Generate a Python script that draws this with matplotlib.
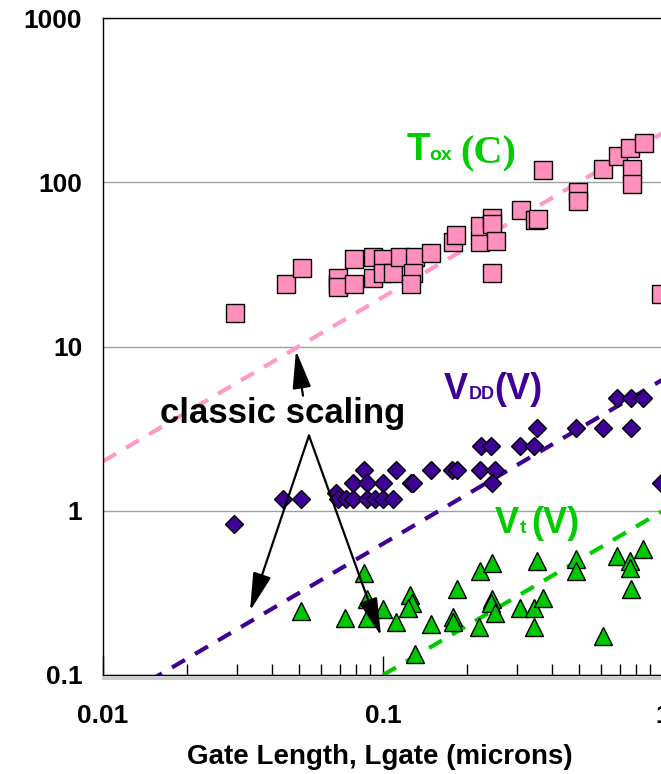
import numpy as np
import matplotlib.pyplot as plt
from matplotlib.lines import Line2D
from matplotlib.ticker import NullLocator, FixedLocator

plt.rcParams['font.family'] = ['Liberation Sans', 'DejaVu Sans']

# Tox (oxide thickness) points
tox_lgate = [0.0296, 0.045, 0.0514, 0.069, 0.069, 0.069, 0.079, 0.079, 0.092, 0.092,
             0.1, 0.1, 0.109, 0.115, 0.130, 0.128, 0.126, 0.148, 0.178, 0.182,
             0.222, 0.222, 0.245, 0.245, 0.253, 0.245, 0.311, 0.349, 0.358, 0.373,
             0.497, 0.497, 0.61, 0.69, 0.76, 0.855, 0.775, 0.775, 0.984]
tox_val = [16, 24, 30, 24, 26, 23, 34, 24, 35, 26,
           34, 28, 28, 35, 35, 28, 24, 37, 43, 48,
           43, 54, 61, 56, 44, 28, 68, 59, 60, 118,
           87, 77, 120, 144, 161, 173, 120, 97, 21]

# supply voltage points
vdd_lgate = [0.0294, 0.044, 0.051, 0.068, 0.069, 0.074, 0.078, 0.078, 0.0855, 0.088,
             0.088, 0.0936, 0.1, 0.1, 0.1086, 0.111, 0.126, 0.128, 0.148, 0.176,
             0.184, 0.222, 0.251, 0.245, 0.224, 0.243, 0.309, 0.346, 0.355, 0.489,
             0.61, 0.769, 0.685, 0.769, 0.848, 0.984]
vdd_val = [0.83, 1.18, 1.18, 1.29, 1.18, 1.18, 1.18, 1.48, 1.78, 1.48,
           1.18, 1.18, 1.48, 1.18, 1.18, 1.78, 1.48, 1.48, 1.78, 1.78,
           1.78, 1.78, 1.78, 1.48, 2.49, 2.49, 2.49, 2.49, 3.21, 3.21,
           3.21, 3.21, 4.89, 4.89, 4.89, 1.48]

# threshold voltage points
vt_lgate = [0.051, 0.0855, 0.088, 0.073, 0.088, 0.1, 0.111, 0.125, 0.127, 0.123,
            0.130, 0.148, 0.184, 0.178, 0.178, 0.222, 0.245, 0.245, 0.243, 0.251,
            0.220, 0.309, 0.346, 0.373, 0.346, 0.355, 0.489, 0.489, 0.61, 0.685,
            0.762, 0.762, 0.769, 0.848]
vt_val = [0.246, 0.419, 0.291, 0.223, 0.223, 0.253, 0.210, 0.307, 0.275, 0.256,
          0.134, 0.205, 0.334, 0.226, 0.210, 0.431, 0.482, 0.291, 0.275, 0.239,
          0.196, 0.256, 0.256, 0.295, 0.196, 0.496, 0.510, 0.431, 0.173, 0.532,
          0.496, 0.449, 0.334, 0.587]

# classic scaling lines (end points)
scale_lgate = [0.01, 1.0]
tox_scale = [2.0, 200.0]
vdd_scale = [0.063, 6.3]
vt_lgate_scale = [0.1, 1.0]
vt_scale = [0.1, 1.0]

x_ticks = [0.01, 0.1, 1]
x_labels = ['0.01', '0.1', '1']
y_ticks = [0.1, 1, 10, 100, 1000]
y_labels = ['0.1', '1', '10', '100', '1000']

pink = '#ff8fbd'
pink_line = '#ff99c8'
purple = '#3f0096'
green = '#00c800'
green_txt = '#00cc00'

W, H = 661, 774
fig = plt.figure(figsize=(W / 100, H / 100), dpi=100)
ax = fig.add_axes([103 / W, (H - 675) / H, 560 / W, 657 / H])

ax.set_xscale('log')
ax.set_yscale('log')
ax.set_xlim(0.01, 1)
ax.set_ylim(0.1, 1000)

dash = (3.6, 2.8)
ax.plot(scale_lgate, tox_scale, color=pink_line, lw=3, dashes=dash, zorder=2)
ax.plot(scale_lgate, vdd_scale, color=purple, lw=3, dashes=dash, zorder=2)
ax.plot(vt_lgate_scale, vt_scale, color=green_txt, lw=3, dashes=dash, zorder=2)

ax.plot(tox_lgate, tox_val, 's', ms=13.5, mfc=pink, mec='black', mew=1.0, zorder=3)
ax.plot(vdd_lgate, vdd_val, 'D', ms=9.5, mfc=purple, mec='black', mew=1.0, zorder=3)
ax.plot(vt_lgate, vt_val, '^', ms=13.5, mfc=green, mec='black', mew=1.0, zorder=3)

# axes / ticks
ax.xaxis.set_major_locator(FixedLocator(x_ticks))
ax.set_xticklabels(x_labels)
ax.yaxis.set_major_locator(FixedLocator(y_ticks))
ax.set_yticklabels(y_labels)
ax.yaxis.set_minor_locator(NullLocator())
ax.tick_params(axis='x', which='major', direction='in', length=14, width=1, pad=21,
               labelsize=19)
ax.tick_params(axis='x', which='minor', direction='in', length=8, width=1)
ax.tick_params(axis='y', which='major', length=0, pad=15, labelsize=19)
for lab in ax.get_xticklabels() + ax.get_yticklabels():
    lab.set_fontweight('bold')

ax.yaxis.grid(True, which='major', color='#a0a0a0', lw=1)
ax.set_axisbelow(True)
for s in ['left', 'top', 'bottom']:
    ax.spines[s].set_linewidth(1)
ax.spines['right'].set_visible(False)

# shadow under the x axis
fig.add_artist(Line2D([103 / W, 1], [(H - 678) / H] * 2, transform=fig.transFigure,
                      color='#c8c8c8', lw=2))

# labels for each series
ax.text(0.1218, 136, 'T', color=green_txt, fontsize=28, fontweight='bold',
        ha='left', va='baseline')
ax.text(0.146, 136, 'ox', color=green_txt, fontsize=14, fontweight='bold',
        ha='left', va='baseline')
ax.text(0.188, 130, '(C)', color=green_txt, fontsize=29, fontweight='bold',
        family=['Liberation Serif', 'DejaVu Serif'], ha='left', va='baseline')

ax.text(0.1651, 4.82, 'V', color=purple, fontsize=26, fontweight='bold',
        ha='left', va='baseline')
ax.text(0.2028, 4.82, 'DD', color=purple, fontsize=13, fontweight='bold',
        ha='left', va='baseline')
ax.text(0.249, 4.82, '(V)', color=purple, fontsize=26, fontweight='bold',
        ha='left', va='baseline')

ax.text(0.2512, 0.734, 'V', color=green_txt, fontsize=26, fontweight='bold',
        ha='left', va='baseline')
ax.text(0.3085, 0.734, 't', color=green_txt, fontsize=14, fontweight='bold',
        ha='left', va='baseline')
ax.text(0.3378, 0.734, '(V)', color=green_txt, fontsize=26, fontweight='bold',
        ha='left', va='baseline')

ax.text(0.0438, 3.44, 'classic scaling', color='black', fontsize=25, fontweight='bold',
        ha='center', va='baseline')

arrow = dict(arrowstyle='-|>,head_length=1.3,head_width=0.32', color='black', lw=1.6,
             shrinkA=0, shrinkB=0, mutation_scale=18)
ax.annotate('', xy=(0.0489, 9.45), xytext=(0.0518, 5.02), arrowprops=arrow)
ax.annotate('', xy=(0.0335, 0.246), xytext=(0.0544, 2.87), arrowprops=arrow)
ax.annotate('', xy=(0.0984, 0.173), xytext=(0.0544, 2.87), arrowprops=arrow)

fig.text(380 / W, 1 - 757 / H, 'Gate Length, Lgate (microns)', fontsize=20,
         fontweight='bold', ha='center', va='center')

fig.savefig('out.png', dpi=100)
